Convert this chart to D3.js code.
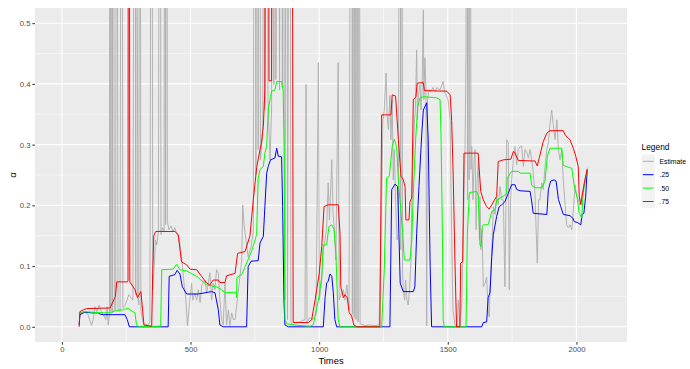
<!DOCTYPE html>
<html>
<head>
<meta charset="utf-8">
<script src="https://cdn.jsdelivr.net/npm/d3@7"></script>
<style>
  html, body { margin: 0; padding: 0; background: #ffffff; }
  svg { display: block; font-family: "Liberation Sans", Arial, Helvetica, sans-serif; }
</style>
</head>
<body>
<svg id="chart" width="690" height="369"></svg>
<script>
// Raw estimate of alpha over time; values above the axis limit are clipped by the panel.
const estimate = [
  [67,0.015],[74,0.023],[86,0.025],[101,0.021],[115,0.002],[122,0.012],[128,0.033],[136,0.025],[145,0.036],[154,0.025],[161,0.020],[171,0.012],[176,0.033],[180,0.003],[185,0.018],[187,1.5],[190,0.025],[193,1.5],[196,0.023],[199,1.5],[204,0.026],[209,0.028],[213,1.5],[218,0.030],[226,0.025],[232,1.5],[237,0.031],[245,0.035],[253,0.044],[260,0.053],[268,0.048],[276,0.044],[284,1.5],[287,0.053],[290,1.5],[295,0.048],[299,0.036],[303,1.5],[307,0.028],[313,0.012],[319,0.002],[327,0.005],[334,0.002],[342,0.008],[349,1.5],[353,0.061],[358,0.094],[364,0.143],[369,0.135],[375,0.157],[381,1.5],[385,0.152],[391,0.163],[397,0.157],[400,1.5],[403,0.168],[407,1.5],[410,0.173],[416,0.160],[424,0.166],[432,0.157],[439,0.163],[447,0.152],[455,0.147],[459,0.135],[467,0.107],[474,0.074],[482,0.044],[488,0.002],[494,0.028],[504,0.072],[509,0.044],[517,0.056],[524,0.044],[530,0.061],[537,0.040],[544,0.069],[556,0.077],[563,0.056],[569,0.072],[575,0.089],[582,0.044],[588,0.072],[595,0.061],[601,0.094],[608,0.089],[614,0.044],[621,0.012],[627,0.003],[634,0.072],[640,0.003],[647,0.028],[653,0.002],[660,0.023],[666,0.012],[673,0.012],[685,0.056],[699,0.110],[703,0.201],[708,0.168],[712,0.155],[724,0.115],[735,0.132],[744,0.155],[750,1.5],[754,0.250],[759,1.5],[763,0.292],[767,1.5],[772,0.275],[778,0.308],[781,0.341],[785,1.5],[789,0.357],[796,1.5],[801,0.374],[809,0.275],[815,0.357],[822,1.5],[824,0.399],[828,1.5],[832,0.407],[841,1.5],[846,0.390],[854,1.5],[857,0.394],[860,1.5],[864,0.341],[867,0.044],[874,1.5],[877,0.012],[886,1.5],[890,0.008],[898,0.003],[910,0.007],[925,0.008],[945,0.012],[949,0.399],[953,0.008],[964,0.015],[976,0.012],[988,0.021],[997,0.435],[1001,0.044],[1010,0.077],[1016,0.127],[1023,0.143],[1029,0.160],[1035,0.237],[1040,0.176],[1049,0.275],[1054,0.185],[1058,0.168],[1065,0.110],[1074,0.435],[1078,0.044],[1085,0.053],[1094,0.061],[1100,0.044],[1108,0.069],[1116,0.028],[1126,1.5],[1129,0.020],[1133,1.5],[1136,0.015],[1139,1.5],[1143,0.012],[1147,1.5],[1151,0.008],[1155,1.5],[1159,0.005],[1178,0.002],[1198,0.003],[1217,0.002],[1233,0.003],[1239,0.127],[1243,0.209],[1248,0.341],[1253,0.357],[1260,0.418],[1264,0.349],[1269,0.325],[1275,0.381],[1279,0.308],[1284,0.374],[1288,0.242],[1292,0.292],[1297,0.209],[1303,0.143],[1308,0.160],[1314,1.5],[1317,0.127],[1321,1.5],[1324,0.094],[1327,0.061],[1332,0.044],[1336,0.077],[1341,0.044],[1346,0.036],[1351,0.061],[1357,0.110],[1360,0.209],[1366,0.292],[1371,0.341],[1374,0.357],[1379,0.456],[1382,0.341],[1386,0.382],[1392,0.399],[1396,0.357],[1400,0.390],[1405,0.522],[1407,0.374],[1411,0.443],[1415,0.390],[1418,0.002],[1421,0.374],[1427,0.390],[1435,0.387],[1442,0.394],[1450,0.387],[1458,0.394],[1470,0.390],[1482,0.404],[1487,0.387],[1493,0.382],[1501,0.374],[1509,0.341],[1512,0.242],[1516,0.127],[1520,0.028],[1528,0.003],[1536,0.002],[1541,0.044],[1547,0.002],[1555,0.044],[1563,0.209],[1567,0.292],[1571,0.456],[1574,1.5],[1577,0.209],[1580,1.5],[1583,0.242],[1586,1.5],[1590,0.259],[1593,0.297],[1598,0.209],[1602,0.275],[1606,0.292],[1610,0.160],[1614,0.242],[1619,0.275],[1623,0.143],[1625,0.214],[1629,0.127],[1633,0.160],[1638,0.066],[1645,0.072],[1651,0.082],[1657,0.028],[1661,0.016],[1666,0.077],[1671,0.122],[1677,0.198],[1684,0.185],[1690,0.214],[1696,0.201],[1703,0.231],[1710,0.209],[1716,0.209],[1722,0.066],[1729,0.308],[1735,0.303],[1739,0.061],[1744,0.209],[1748,0.242],[1755,0.275],[1761,0.297],[1768,0.267],[1774,0.292],[1781,0.297],[1787,0.298],[1794,0.264],[1800,0.292],[1807,0.287],[1813,0.278],[1820,0.292],[1826,0.275],[1832,0.254],[1839,0.217],[1843,0.165],[1848,0.105],[1853,0.209],[1858,0.209],[1865,0.237],[1871,0.226],[1878,0.264],[1885,0.292],[1891,0.303],[1897,0.333],[1904,0.357],[1910,0.333],[1917,0.308],[1924,0.341],[1930,0.292],[1936,0.275],[1943,0.292],[1949,0.242],[1956,0.201],[1962,0.168],[1969,0.163],[1975,0.168],[1982,0.160],[1988,0.193],[1995,0.234],[2001,0.217],[2007,0.209],[2014,0.201],[2021,0.217],[2026,0.226],[2033,0.242],[2040,0.255],[2042,0.262]
];

// Rolling lower quartile.
const q25 = [
  [67,0.003],[70,0.020],[89,0.024],[115,0.023],[141,0.023],[148,0.021],[161,0.020],[245,0.020],[254,0.012],[262,0.000],[413,0.000],[417,0.083],[439,0.086],[448,0.093],[459,0.087],[468,0.066],[485,0.054],[530,0.054],[582,0.058],[595,0.056],[608,0.028],[614,0.003],[627,0.000],[718,0.000],[724,0.099],[735,0.108],[763,0.109],[770,0.138],[783,0.149],[789,0.198],[796,0.253],[802,0.264],[811,0.275],[828,0.278],[835,0.294],[841,0.281],[854,0.280],[858,0.198],[863,0.044],[867,0.003],[880,0.000],[1016,0.000],[1023,0.048],[1029,0.072],[1035,0.075],[1042,0.087],[1049,0.083],[1055,0.056],[1061,0.012],[1068,0.000],[1275,0.000],[1282,0.226],[1295,0.235],[1305,0.231],[1310,0.154],[1315,0.072],[1327,0.058],[1366,0.058],[1372,0.066],[1379,0.154],[1388,0.231],[1399,0.319],[1405,0.357],[1418,0.369],[1424,0.308],[1431,0.110],[1437,0.000],[1632,0.000],[1638,0.007],[1651,0.008],[1657,0.048],[1664,0.056],[1671,0.116],[1677,0.152],[1690,0.182],[1700,0.198],[1710,0.201],[1722,0.206],[1735,0.220],[1748,0.234],[1761,0.234],[1768,0.226],[1781,0.224],[1820,0.223],[1826,0.207],[1832,0.187],[1885,0.185],[1891,0.226],[1900,0.240],[1913,0.242],[1921,0.240],[1930,0.210],[1939,0.198],[1949,0.185],[1975,0.183],[1986,0.179],[1992,0.173],[2003,0.172],[2017,0.168],[2022,0.185],[2029,0.187],[2036,0.215],[2042,0.259]
];

// Rolling median.
const q50 = [
  [67,0.022],[83,0.025],[161,0.023],[187,0.023],[213,0.027],[238,0.028],[258,0.031],[264,0.028],[284,0.023],[290,0.003],[297,0.000],[384,0.001],[388,0.094],[432,0.095],[446,0.103],[459,0.094],[485,0.092],[524,0.083],[563,0.069],[601,0.066],[621,0.061],[634,0.056],[677,0.057],[679,0.048],[680,0.081],[699,0.086],[718,0.105],[737,0.124],[757,0.152],[763,0.245],[770,0.259],[783,0.264],[789,0.286],[796,0.297],[802,0.357],[811,0.379],[815,0.388],[828,0.390],[835,0.404],[854,0.404],[860,0.388],[864,0.297],[867,0.012],[874,0.005],[899,0.003],[964,0.001],[977,0.003],[997,0.044],[1010,0.083],[1016,0.135],[1029,0.135],[1038,0.165],[1049,0.168],[1058,0.160],[1065,0.121],[1074,0.012],[1081,0.000],[1243,0.000],[1253,0.094],[1262,0.245],[1273,0.249],[1284,0.297],[1292,0.309],[1301,0.297],[1308,0.242],[1314,0.209],[1325,0.154],[1331,0.110],[1353,0.110],[1360,0.143],[1366,0.220],[1375,0.308],[1383,0.363],[1392,0.377],[1405,0.379],[1457,0.377],[1470,0.374],[1474,0.308],[1479,0.154],[1482,0.012],[1486,0.000],[1571,0.000],[1576,0.154],[1584,0.221],[1612,0.223],[1618,0.217],[1625,0.135],[1629,0.132],[1634,0.165],[1638,0.168],[1657,0.168],[1671,0.190],[1684,0.193],[1690,0.209],[1703,0.212],[1716,0.215],[1729,0.220],[1731,0.245],[1748,0.256],[1774,0.256],[1781,0.253],[1820,0.253],[1826,0.233],[1839,0.229],[1865,0.229],[1878,0.240],[1887,0.281],[1897,0.294],[1943,0.294],[1949,0.266],[1960,0.264],[1982,0.261],[1992,0.231],[2003,0.212],[2011,0.187],[2021,0.179],[2026,0.220],[2037,0.248],[2042,0.259]
];

// Rolling upper quartile.
const q75 = [
  [67,0.000],[70,0.025],[83,0.028],[96,0.030],[187,0.031],[208,0.050],[213,0.074],[254,0.074],[257,0.076],[258,0.95],[262,0.95],[264,0.074],[284,0.061],[294,0.048],[307,0.058],[319,0.003],[349,0.001],[353,0.088],[357,0.150],[365,0.157],[439,0.157],[452,0.152],[465,0.107],[485,0.102],[498,0.095],[524,0.094],[543,0.083],[563,0.072],[575,0.069],[588,0.077],[608,0.077],[614,0.073],[634,0.073],[640,0.084],[673,0.088],[683,0.121],[712,0.124],[731,0.150],[744,0.209],[757,0.262],[770,0.292],[776,0.303],[783,0.330],[789,0.390],[792,0.95],[802,0.95],[805,0.405],[815,0.405],[817,0.95],[895,0.95],[899,0.007],[958,0.007],[971,0.012],[984,0.044],[1000,0.087],[1010,0.132],[1019,0.198],[1035,0.201],[1074,0.201],[1081,0.154],[1084,0.066],[1094,0.048],[1100,0.053],[1109,0.048],[1117,0.023],[1126,0.018],[1135,0.003],[1146,0.000],[1236,0.000],[1243,0.349],[1279,0.349],[1284,0.382],[1297,0.380],[1308,0.308],[1318,0.248],[1327,0.242],[1334,0.231],[1337,0.176],[1349,0.176],[1353,0.206],[1360,0.212],[1366,0.374],[1376,0.379],[1381,0.401],[1392,0.402],[1405,0.402],[1409,0.389],[1496,0.388],[1509,0.382],[1515,0.340],[1521,0.250],[1528,0.105],[1534,0.000],[1547,0.000],[1550,0.105],[1558,0.107],[1563,0.286],[1618,0.286],[1628,0.223],[1638,0.209],[1651,0.198],[1661,0.194],[1671,0.201],[1690,0.215],[1696,0.272],[1716,0.275],[1745,0.276],[1755,0.289],[1761,0.286],[1774,0.274],[1839,0.273],[1848,0.265],[1856,0.279],[1871,0.305],[1885,0.319],[1897,0.323],[1949,0.323],[1956,0.316],[1975,0.308],[1988,0.294],[1998,0.280],[2007,0.264],[2011,0.215],[2017,0.201],[2024,0.220],[2033,0.242],[2042,0.259]
];

const xTicks = [0, 500, 1000, 1500, 2000];
const xMinor = [250, 750, 1250, 1750];
const yTicks = [0, 0.1, 0.2, 0.3, 0.4, 0.5];
const yMinor = [0.05, 0.15, 0.25, 0.35, 0.45];
const timeRange = [0, 2092];
const alphaLimits = [0, 0.5];
const legendLabels = ["Estimate", ".25", ".50", ".75"];

const seriesList = [estimate, q25, q50, q75];
const seriesColors = ["#ADADAD", "#0000FF", "#00FF00", "#FF0000"];

const svg = d3.select("#chart");
const panel = { left: 35, right: 627, top: 8, bottom: 342 };

// ggplot-style 5% expansion on both axes
const expand = (r) => { const w = (r[1] - r[0]) * 0.05; return [r[0] - w, r[1] + w]; };
const x = d3.scaleLinear().domain(expand(timeRange)).range([panel.left, panel.right]);
const y = d3.scaleLinear().domain(expand(alphaLimits)).range([panel.bottom, panel.top]);

svg.append("rect").attr("width", 690).attr("height", 369).attr("fill", "#ffffff");

// panel background
svg.append("rect")
  .attr("x", panel.left).attr("y", panel.top)
  .attr("width", panel.right - panel.left).attr("height", panel.bottom - panel.top)
  .attr("fill", "#EBEBEB");

const grid = svg.append("g");
grid.selectAll(".ymin").data(yMinor).join("line")
  .attr("x1", panel.left).attr("x2", panel.right)
  .attr("y1", d => y(d)).attr("y2", d => y(d))
  .attr("stroke", "#ffffff").attr("stroke-width", 0.55);
grid.selectAll(".xmin").data(xMinor).join("line")
  .attr("y1", panel.top).attr("y2", panel.bottom)
  .attr("x1", d => x(d)).attr("x2", d => x(d))
  .attr("stroke", "#ffffff").attr("stroke-width", 0.55);
grid.selectAll(".ymaj").data(yTicks).join("line")
  .attr("x1", panel.left).attr("x2", panel.right)
  .attr("y1", d => y(d)).attr("y2", d => y(d))
  .attr("stroke", "#ffffff").attr("stroke-width", 1.1);
grid.selectAll(".xmaj").data(xTicks).join("line")
  .attr("y1", panel.top).attr("y2", panel.bottom)
  .attr("x1", d => x(d)).attr("x2", d => x(d))
  .attr("stroke", "#ffffff").attr("stroke-width", 1.1);

// clip lines to the panel
svg.append("clipPath").attr("id", "panel-clip")
  .append("rect")
  .attr("x", panel.left).attr("y", panel.top)
  .attr("width", panel.right - panel.left).attr("height", panel.bottom - panel.top);

const line = d3.line().x(d => x(d[0])).y(d => y(d[1]));
const lines = svg.append("g").attr("clip-path", "url(#panel-clip)");
seriesList.forEach((s, i) => {
  lines.append("path")
    .datum(s)
    .attr("d", line)
    .attr("fill", "none")
    .attr("stroke", seriesColors[i])
    .attr("stroke-width", i === 0 ? 0.9 : 1)
    .attr("stroke-linejoin", "round");
});

// axes
const yAxis = svg.append("g")
  .attr("transform", `translate(${panel.left},0)`)
  .call(d3.axisLeft(y).tickValues(yTicks).tickFormat(d3.format(".1f")).tickSize(2.7).tickPadding(1.8));
const xAxis = svg.append("g")
  .attr("transform", `translate(0,${panel.bottom})`)
  .call(d3.axisBottom(x).tickValues(xTicks).tickFormat(d3.format("d")).tickSize(2.7).tickPadding(1.4));
[yAxis, xAxis].forEach(g => {
  g.select(".domain").remove();
  g.selectAll(".tick line").attr("stroke", "#333333").attr("stroke-width", 1);
  g.selectAll(".tick text").attr("fill", "#4D4D4D").attr("font-size", "7.7px")
    .attr("font-family", "'Liberation Sans', Arial, sans-serif");
});

// axis titles
svg.append("text")
  .attr("x", (panel.left + panel.right) / 2).attr("y", 363.5)
  .attr("text-anchor", "middle").attr("font-size", "9.4px").attr("fill", "#000000")
  .text("Times");
svg.append("text")
  .attr("transform", `translate(16,${(panel.top + panel.bottom) / 2}) rotate(-90)`)
  .attr("text-anchor", "middle").attr("font-size", "9.6px").attr("fill", "#000000")
  .text("α");

// legend
const legend = svg.append("g").attr("transform", "translate(641.5,0)");
legend.append("text").attr("x", 0).attr("y", 149.5)
  .attr("font-size", "8.4px").attr("fill", "#000000").text("Legend");
const keyH = 13.4, keyTop = 154.6;
legendLabels.forEach((lab, i) => {
  const cy = keyTop + keyH * i + keyH / 2;
  legend.append("rect").attr("x", 0).attr("y", keyTop + keyH * i)
    .attr("width", 13.4).attr("height", keyH).attr("fill", "#F2F2F2");
  legend.append("line").attr("x1", 1.3).attr("x2", 12.1)
    .attr("y1", cy).attr("y2", cy)
    .attr("stroke", seriesColors[i]).attr("stroke-width", 1);
  legend.append("text").attr("x", 18).attr("y", cy + 2.4)
    .attr("font-size", "6.8px").attr("fill", "#000000").text(lab);
});
</script>
</body>
</html>
